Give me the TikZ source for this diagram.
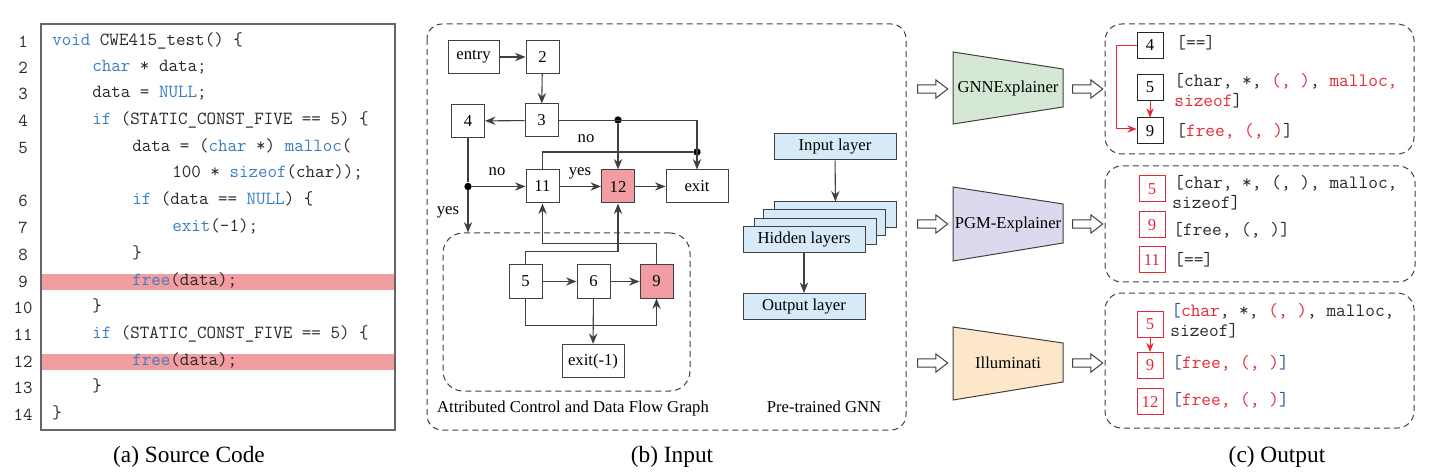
\documentclass[tikz,border=0pt]{standalone}
\usepackage{fontspec}
\setmainfont{Liberation Serif}
\usetikzlibrary{arrows.meta,shapes.arrows}

\definecolor{kwblue}{RGB}{58,125,196}
\definecolor{codetext}{RGB}{40,40,40}
\definecolor{pinkhl}{RGB}{242,157,162}
\definecolor{layerblue}{RGB}{214,234,248}
\definecolor{gnngreen}{RGB}{213,232,212}
\definecolor{pgmpurple}{RGB}{219,217,237}
\definecolor{illuorange}{RGB}{253,231,201}
\definecolor{outred}{RGB}{228,40,52}
\definecolor{brkblue}{RGB}{45,85,155}

\newcommand{\kw}[1]{\textcolor{kwblue}{#1}}
\newcommand{\hl}[1]{\textcolor{outred}{#1}}
\newcommand{\bk}[1]{\textcolor{brkblue}{#1}}

\begin{document}
\begin{tikzpicture}[
  x=0.6pt, y=-0.6pt,
  every node/.style={font=\fontsize{10}{12}\selectfont},
  blk/.style={draw=black!75, fill=white, line width=0.6pt, inner sep=0pt, minimum width=19.8pt, minimum height=19.8pt},
  wideblk/.style={blk, minimum width=37.2pt},
  hot/.style={fill=pinkhl},
  flow/.style={draw=black!75, line width=0.65pt, -{Stealth[length=6.3pt,width=5pt]}},
  joint/.style={circle, fill=black, inner sep=0pt, minimum size=4.4pt},
  lineno/.style={font=\ttfamily\fontsize{11}{12}\selectfont, text=codetext},
  srcline/.style={anchor=west, inner sep=0pt, text height=6pt, text depth=1.5pt, font=\ttfamily\fontsize{11.1}{12}\selectfont, text=codetext},
  outcode/.style={srcline, font=\ttfamily\fontsize{11.3}{12}\selectfont},
  layer/.style={draw=black!75, fill=layerblue, line width=0.6pt, inner sep=0pt, minimum width=73.2pt, minimum height=15.6pt},
  outblk/.style={draw=black!85, fill=white, line width=0.6pt, inner sep=0pt, minimum size=15.6pt},
  redblk/.style={outblk, draw=outred, text=outred},
  redflow/.style={draw=outred, line width=0.6pt, -{Stealth[length=5.5pt,width=4.4pt]}},
  hollow/.style={single arrow, draw=black!75, fill=white, line width=0.6pt, inner sep=2.2pt, minimum height=18pt, minimum width=11pt, single arrow head extend=3pt, single arrow tip angle=75},
  frame/.style={draw=black!75, dashed, dash pattern=on 3.6pt off 2.4pt, line width=0.6pt},
  caption/.style={font=\fontsize{14}{16}\selectfont}
]
  \useasboundingbox (0,0) rectangle (1452,473);

  % (a) source code
  \fill[pinkhl] (41,274) rectangle (395,290);
  \fill[pinkhl] (41,354) rectangle (395,370);
  \draw[black!60, line width=0.8pt] (41,24) rectangle (395,430);
  \foreach \n/\y in {1/42,2/68,3/94,4/121,5/148,6/201,7/228,8/255,9/282,10/308,11/335,12/362,13/388,14/415}
    \node[lineno] (ln\n) at (23,\y) {\n};
  \node[srcline] (c1) at (52,42) {\kw{void} CWE415\_test() \{};
  \node[srcline] (c2) at (92,68) {\kw{char} * data;};
  \node[srcline] (c3) at (92,94) {data = \kw{NULL};};
  \node[srcline] (c4) at (92,121) {\kw{if} (STATIC\_CONST\_FIVE == 5) \{};
  \node[srcline] (c5) at (132,148) {data = (\kw{char} *) \kw{malloc}(};
  \node[srcline] (c5b) at (172,174) {100 * \kw{sizeof}(char));};
  \node[srcline] (c6) at (132,201) {\kw{if} (data == \kw{NULL}) \{};
  \node[srcline] (c7) at (172,228) {\kw{exit}(-1);};
  \node[srcline] (c8) at (132,255) {\}};
  \node[srcline] (c9) at (132,282) {\kw{free}(data);};
  \node[srcline] (c10) at (92,308) {\}};
  \node[srcline] (c11) at (92,335) {\kw{if} (STATIC\_CONST\_FIVE == 5) \{};
  \node[srcline] (c12) at (132,362) {\kw{free}(data);};
  \node[srcline] (c13) at (92,388) {\}};
  \node[srcline] (c14) at (52,415) {\}};
  \node[caption] (capa) at (189,457) {(a) Source Code};

  % (b) input: control and data flow graph
  \draw[frame, rounded corners=9pt] (427,24) rectangle (906,430);
  \node[blk, minimum width=30.6pt] (entry) at (473.5,57) {entry};
  \node[blk] (n2) at (542.5,57) {2};
  \node[blk] (n3) at (541.5,120.5) {3};
  \node[blk] (n4) at (468,121) {4};
  \node[blk] (n11) at (542.5,186.5) {11};
  \node[blk, hot] (n12) at (618,186.5) {12};
  \node[wideblk] (exit) at (697,186.5) {exit};
  \node[frame, rounded corners=12pt, minimum width=148.2pt, minimum height=94.8pt] (loop) at (566.5,312) {};
  \node[blk] (n5) at (525.5,281.5) {5};
  \node[blk] (n6) at (593.5,281.5) {6};
  \node[blk, hot] (n9) at (656.5,281.5) {9};
  \node[wideblk] (exit1) at (593,361) {exit(-1)};
  \node[joint] (d1) at (618,120) {};
  \node[joint] (d2) at (697,152) {};
  \node[joint] (d3) at (468,186.5) {};

  \draw[flow] (entry) -- (n2);
  \draw[flow] (n2) -- (n3);
  \draw[flow] (n3) -- (n4);
  \draw[flow] (n3.east) -| (exit.north);
  \draw[flow] (d1) -- (n12.north);
  \draw[draw=black!75, line width=0.65pt] (n11.north) |- (d2);
  \draw[draw=black!75, line width=0.65pt] (n4.south) -- (d3);
  \draw[flow] (d3) -- (n11.west);
  \draw[flow] (d3) -- (d3 |- loop.north);
  \draw[flow] (n11) -- (n12);
  \draw[flow] (n12) -- (exit);
  \draw[flow] (n5) -- (n6);
  \draw[flow] (n6) -- (n9);
  \draw[flow] (n6) -- (exit1);
  \draw[flow] (n5.south) -- ++(0,27) -| (n9.south);
  \draw[flow] (n5.north) -- ++(0,-13) -| (n12.south);
  \draw[flow] (n9.north) -- ++(0,-21) -| (n11.south);
  \node (lno1) at (586,139) {no};
  \node (lno2) at (497,172) {no};
  \node (lyes1) at (580,173) {yes};
  \node (lyes2) at (448,212) {yes};
  \node (cfg) at (573,408) {Attributed Control and Data Flow Graph};

  % (b) input: pre-trained GNN
  \node[layer] (inp) at (835,147) {Input layer};
  \node[layer] (hid3) at (835.5,215) {};
  \node[layer] (hid2) at (824,223) {};
  \node[layer] (hid1) at (815.5,231.5) {};
  \node[layer] (hid) at (804,240) {Hidden layers};
  \node[layer] (outp) at (804,306.5) {Output layer};
  \draw[flow] (inp) -- (hid3);
  \draw[flow] (hid) -- (outp);
  \node (gnn) at (824,407) {Pre-trained GNN};
  \node[caption] (capb) at (672,457) {(b) Input};

  % explainers
  \draw[draw=black!75, fill=gnngreen, line width=0.6pt] (953,52) -- (1063,69) -- (1063,107) -- (953,124) -- cycle;
  \draw[draw=black!75, fill=pgmpurple, line width=0.6pt] (953,187) -- (1063,204) -- (1063,243) -- (953,261) -- cycle;
  \draw[draw=black!75, fill=illuorange, line width=0.6pt] (953,327) -- (1063,343) -- (1063,382) -- (953,400) -- cycle;
  \node (gnnx) at (1008,88) {GNNExplainer};
  \node (pgmx) at (1008,224) {PGM-Explainer};
  \node (illu) at (1008,363) {Illuminati};
  \node[hollow] (ina1) at (930,89) {};
  \node[hollow] (ina2) at (930,224) {};
  \node[hollow] (ina3) at (930,363) {};
  \node[hollow] (outa1) at (1085,89) {};
  \node[hollow] (outa2) at (1085,224) {};
  \node[hollow] (outa3) at (1085,363) {};

  % (c) output
  \draw[frame, rounded corners=10pt] (1105,24) rectangle (1414,154);
  \draw[frame, rounded corners=10pt] (1105,166) rectangle (1415,282);
  \draw[frame, rounded corners=10pt] (1105,293) rectangle (1414,428);

  \node[outblk] (g4) at (1150,45.5) {4};
  \node[outblk] (g5) at (1150,87.5) {5};
  \node[outblk] (g9) at (1150,131) {9};
  \draw[redflow] (g5) -- (g9);
  \draw[redflow] (g4.west) -- ++(-20,0) |- ([yshift=1.2pt]g9.west);
  \node[outcode] (gt4) at (1176,45) {[==]};
  \node[outcode] (gt5) at (1174,83) {[char, *, \hl{(, )}, \hl{malloc,}};
  \node[outcode] (gt5b) at (1174,103) {\hl{sizeof}]};
  \node[outcode] (gt9) at (1176,133) {[\hl{free, (, )}]};

  \node[redblk] (p5) at (1152,189) {5};
  \node[redblk] (p9) at (1152,225) {9};
  \node[redblk] (p11) at (1152,260) {11};
  \node[outcode] (pt5) at (1174,185) {[char, *, (, ), malloc,};
  \node[outcode] (pt5b) at (1172,205) {sizeof]};
  \node[outcode] (pt9) at (1173,232) {[free, (, )]};
  \node[outcode] (pt11) at (1174,262) {[==]};

  \node[redblk] (i5) at (1150,324) {5};
  \node[redblk] (i9) at (1150,365.5) {9};
  \node[redblk] (i12) at (1150,401.5) {12};
  \draw[redflow] (i5) -- (i9);
  \node[outcode] (it5) at (1171,313) {\bk{[}\hl{char}, *, \hl{(, )}, malloc,};
  \node[outcode] (it5b) at (1170,333) {sizeof]};
  \node[outcode] (it9) at (1172,365) {\bk{[}\hl{free, (, )}\bk{]}};
  \node[outcode] (it12) at (1172,402) {\bk{[}\hl{free, (, )}\bk{]}};
  \node[caption] (capc) at (1277,457) {(c) Output};
\end{tikzpicture}
\end{document}
